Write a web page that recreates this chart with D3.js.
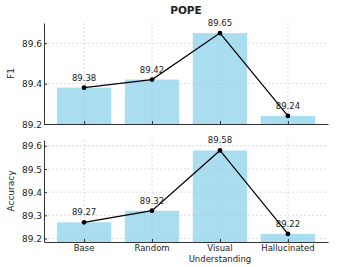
<!DOCTYPE html>
<html>
<head>
<meta charset="utf-8">
<script src="https://cdn.jsdelivr.net/npm/d3@7"></script>
<style>
  body { margin: 0; background: #fff; }
  text { font-family: "DejaVu Sans", sans-serif; fill: #222; }
</style>
</head>
<body>
<div id="chart"></div>
<script>
const categories = ['Base', 'Random', 'Visual\nUnderstanding', 'Hallucinated'];
const f1Values = [89.38, 89.42, 89.65, 89.24];
const accValues = [89.27, 89.32, 89.58, 89.22];
const f1Ticks = [89.2, 89.4, 89.6];
const accTicks = [89.2, 89.3, 89.4, 89.5, 89.6];

const width = 337, height = 267;
const left = 44, right = 328;

const svg = d3.select('#chart')
  .append('svg')
  .attr('width', width)
  .attr('height', height);

let x = d3.scaleLinear()
  .domain([-0.59, categories.length - 1 + 0.59])
  .range([left, right]);

const barW = x(0.4) - x(-0.4);

svg.append('text')
  .attr('x', (left + right) / 2)
  .attr('y', 14)
  .style('text-anchor', 'middle')
  .style('font-size', '10.5px')
  .style('font-weight', 'bold')
  .text('POPE');

function panel(values, ticks, domain, top, bottom, label, showX) {
  let y = d3.scaleLinear().domain(domain).range([bottom, top]);
  let g = svg.append('g');

  // grid
  g.selectAll('.hgrid')
    .data(ticks)
    .enter()
    .append('line')
    .attr('x1', left).attr('x2', right)
    .attr('y1', d => y(d)).attr('y2', d => y(d))
    .attr('stroke', '#c8c8c8')
    .attr('stroke-width', 0.6)
    .attr('stroke-dasharray', '2,2');

  g.selectAll('.vgrid')
    .data(categories)
    .enter()
    .append('line')
    .attr('x1', (d, i) => x(i)).attr('x2', (d, i) => x(i))
    .attr('y1', top).attr('y2', bottom)
    .attr('stroke', '#c8c8c8')
    .attr('stroke-width', 0.6)
    .attr('stroke-dasharray', '2,2');

  // bars
  g.selectAll('.bar')
    .data(values)
    .enter()
    .append('rect')
    .attr('x', (d, i) => x(i) - barW / 2)
    .attr('y', d => y(d))
    .attr('width', barW)
    .attr('height', d => bottom - y(d))
    .style('fill', 'skyblue')
    .style('fill-opacity', 0.7);

  // y axis
  g.append('g')
    .attr('transform', 'translate(' + left + ',0)')
    .call(d3.axisLeft(y).tickValues(ticks).tickFormat(d3.format('.1f')).tickSizeInner(-3).tickSizeOuter(0).tickPadding(2))
    .call(a => a.selectAll('text').style('font-size', '9px').attr('dy', '0.35em'))
    .call(a => a.selectAll('line, path').attr('stroke', '#333'));

  // x axis
  g.append('g')
    .attr('transform', 'translate(0,' + bottom + ')')
    .call(d3.axisBottom(x).tickValues(d3.range(categories.length)).tickSizeInner(-3).tickSizeOuter(0).tickFormat(''))
    .call(a => a.selectAll('line, path').attr('stroke', '#333'));

  if (showX) {
    categories.forEach((c, i) => {
      let t = g.append('text')
        .attr('x', x(i))
        .attr('y', bottom + 9)
        .style('text-anchor', 'middle')
        .style('font-size', '8.5px');
      c.split('\n').forEach((line, j) => {
        t.append('tspan').attr('x', x(i)).attr('dy', j === 0 ? 0 : 10.5).text(line);
      });
    });
  }

  // line + points
  let line = d3.line().x((d, i) => x(i)).y(d => y(d));
  g.append('path')
    .datum(values)
    .attr('d', line)
    .attr('fill', 'none')
    .attr('stroke', '#000')
    .attr('stroke-width', 1.2);

  g.selectAll('.pt')
    .data(values)
    .enter()
    .append('circle')
    .attr('cx', (d, i) => x(i))
    .attr('cy', d => y(d))
    .attr('r', 2.4)
    .attr('fill', '#000');

  g.selectAll('.lbl')
    .data(values)
    .enter()
    .append('text')
    .attr('x', (d, i) => x(i))
    .attr('y', d => y(d) - 7)
    .style('text-anchor', 'middle')
    .style('font-size', '8.5px')
    .text(d => d.toFixed(2));

  svg.append('text')
    .attr('transform', 'translate(14,' + (top + bottom) / 2 + ') rotate(-90)')
    .style('text-anchor', 'middle')
    .style('font-size', '9px')
    .text(label);
}

panel(f1Values, f1Ticks, [89.2, 89.7], 23, 124, 'F1', false);
panel(accValues, accTicks, [89.185, 89.625], 140, 242, 'Accuracy', true);
</script>
</body>
</html>
